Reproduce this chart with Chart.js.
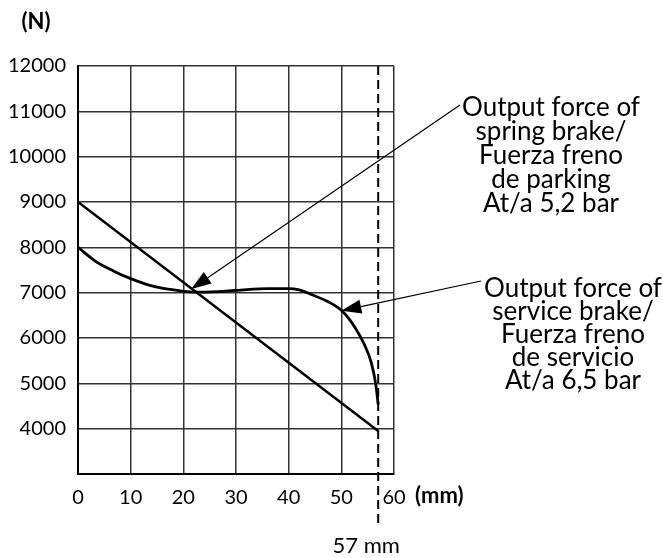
<!DOCTYPE html>
<html>
<head>
<meta charset="utf-8">
<script src="https://cdn.jsdelivr.net/npm/chart.js@4"></script>
<style>
  html, body { margin: 0; padding: 0; background: #fff; }
  #wrap { width: 663px; height: 558px; }
</style>
</head>
<body>
<div id="wrap"><canvas id="forceChart" width="663" height="558"></canvas></div>
<script>
// valeurs (course en mm, force en N)
const xTickValues = [0, 10, 20, 30, 40, 50, 60];
const yTickValues = [4000, 5000, 6000, 7000, 8000, 9000, 10000, 11000, 12000];

// frein de parking (ligne droite)
const springStroke = [0, 57];
const springForce = [9000, 3950];

// frein de service (courbe)
const serviceStroke = [0, 3.5, 6.7, 10, 14, 17.5, 20, 23.5, 30, 36, 40, 42, 44.3, 47.5, 50, 52.5, 54.4, 55.7, 56.6, 57];
const serviceForce = [8000, 7680, 7480, 7310, 7150, 7070, 7030, 7010, 7050, 7090, 7090, 7060, 6960, 6800, 6610, 6250, 5850, 5450, 4930, 4530];

const maxStroke = 57;

// textes des annotations
const springLabel = ['Output force of', 'spring brake/', 'Fuerza freno', 'de parking', 'At/a 5,2 bar'];
const serviceLabel = ['Output force of', 'service brake/', 'Fuerza freno', 'de servicio', 'At/a 6,5 bar'];

const toPoints = (xs, ys) => xs.map((x, i) => ({ x: x, y: ys[i] }));

const FONT = 'Lato, "DejaVu Sans", sans-serif';

function drawArrow(ctx, x1, y1, x2, y2) {
    const ang = Math.atan2(y2 - y1, x2 - x1);
    const len = 20, half = 7;
    const bx = x2 - len * Math.cos(ang), by = y2 - len * Math.sin(ang);
    ctx.beginPath();
    ctx.moveTo(x1, y1);
    ctx.lineTo(bx, by);
    ctx.stroke();
    ctx.beginPath();
    ctx.moveTo(x2, y2);
    ctx.lineTo(bx + half * Math.sin(ang), by - half * Math.cos(ang));
    ctx.lineTo(bx - half * Math.sin(ang), by + half * Math.cos(ang));
    ctx.closePath();
    ctx.fill();
}

// annotations : titres d'axes, ligne 57 mm, flèches et textes
const annotations = {
    id: 'annotations',
    afterDraw(chart) {
        const ctx = chart.ctx;
        const xs = chart.scales.x, ys = chart.scales.y;
        const area = chart.chartArea;
        ctx.save();
        ctx.fillStyle = '#000';
        ctx.strokeStyle = '#000';

        // ligne pointillée à 57 mm
        const xm = xs.getPixelForValue(maxStroke);
        ctx.lineWidth = 2;
        ctx.setLineDash([9, 5]);
        ctx.beginPath();
        ctx.moveTo(xm, area.top);
        ctx.lineTo(xm, 528);
        ctx.stroke();
        ctx.setLineDash([]);

        ctx.textBaseline = 'middle';
        ctx.font = 'bold 22px ' + FONT;
        ctx.textAlign = 'center';
        ctx.fillText('(N)', 36, 22);
        ctx.textAlign = 'left';
        ctx.fillText('(mm)', 415, 496);
        ctx.font = '22px ' + FONT;
        ctx.textAlign = 'center';
        ctx.fillText('57 mm', xm - 12, 546);

        // flèches
        ctx.lineWidth = 1.2;
        drawArrow(ctx, 460, 105, xs.getPixelForValue(21.5), ys.getPixelForValue(7080));
        drawArrow(ctx, 481, 281, xs.getPixelForValue(50), ys.getPixelForValue(6600));

        // textes
        ctx.font = '26px ' + FONT;
        ctx.textBaseline = 'alphabetic';
        springLabel.forEach((t, i) => ctx.fillText(t, 551, 116 + i * 24));
        serviceLabel.forEach((t, i) => ctx.fillText(t, 573, 297 + i * 23));
        ctx.restore();
    }
};

const ctx = document.getElementById('forceChart').getContext('2d');

const forceChart = new Chart(ctx, {
    type: 'line',
    data: {
        datasets: [{
            label: 'Spring brake',
            data: toPoints(springStroke, springForce),
            borderColor: '#000',
            borderWidth: 2.5,
            pointRadius: 0,
            tension: 0
        }, {
            label: 'Service brake',
            data: toPoints(serviceStroke, serviceForce),
            borderColor: '#000',
            borderWidth: 2.8,
            pointRadius: 0,
            cubicInterpolationMode: 'monotone'
        }]
    },
    options: {
        responsive: false,
        animation: false,
        layout: { padding: { top: 66, right: 269, bottom: 44, left: 0 } },
        plugins: { legend: { display: false }, tooltip: { enabled: false } },
        scales: {
            x: {
                type: 'linear',
                min: 0,
                max: 60,
                afterBuildTicks: s => { s.ticks = xTickValues.map(v => ({ value: v })); },
                afterFit: s => { s.height = 40; },
                grid: { color: '#333', lineWidth: 1.5, drawTicks: false },
                border: { color: '#000', width: 2 },
                ticks: { color: '#000', font: { family: FONT, size: 20 }, padding: 12, maxRotation: 0, callback: v => String(v) }
            },
            y: {
                min: 3000,
                max: 12000,
                afterBuildTicks: s => { s.ticks = yTickValues.map(v => ({ value: v })); },
                afterFit: s => { s.width = 78; },
                grid: { color: '#333', lineWidth: 1.5, drawTicks: false },
                border: { color: '#000', width: 2 },
                ticks: { color: '#000', font: { family: FONT, size: 20 }, padding: 12, callback: v => String(v) }
            }
        }
    },
    plugins: [annotations]
});
</script>
</body>
</html>
